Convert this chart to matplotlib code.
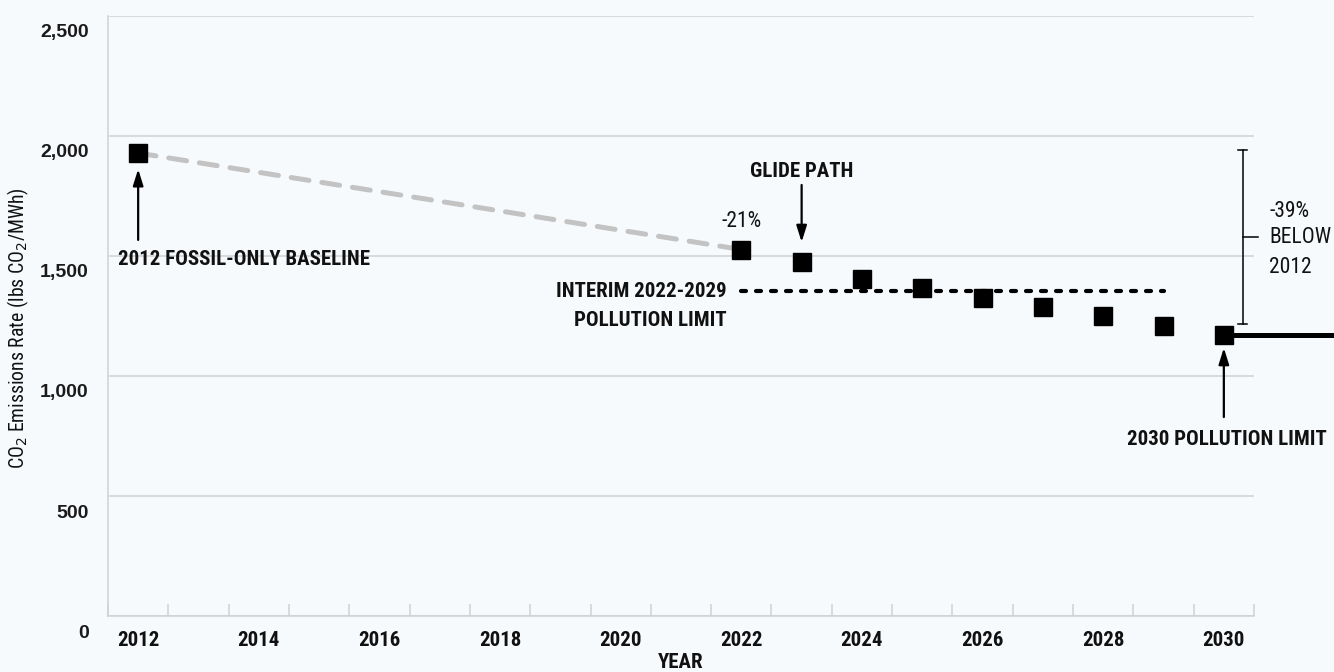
import numpy as np
import matplotlib
matplotlib.use("Agg")
import matplotlib.pyplot as plt
from matplotlib.transforms import ScaledTranslation

# emissions rate targets (lbs CO2/MWh)
years = [2012, 2022, 2023, 2024, 2025, 2026, 2027, 2028, 2029, 2030]
rates = [1929, 1527, 1477, 1406, 1367, 1327, 1287, 1250, 1210, 1171]
interim_years = [2022, 2029]
interim_limit = 1356
final_limit = 1171
bracket_top, bracket_bottom = 1942, 1217
year_labels = [2012, 2014, 2016, 2018, 2020, 2022, 2024, 2026, 2028, 2030]
y_ticks = [0, 500, 1000, 1500, 2000, 2500]

BG = "#f7fafd"
GRID = "#cfd2d5"
COND = ["Roboto Condensed", "Liberation Sans Narrow", "Roboto", "DejaVu Sans"]

fig = plt.figure(figsize=(13.34, 6.72), dpi=100, facecolor=BG)
ax = fig.add_axes([108 / 1334, 56 / 672, 1146 / 1334, 600 / 672], facecolor=BG)

ax.set_xlim(2011.5, 2030.5)
ax.set_ylim(0, 2500)

# grid + frame
ax.set_yticks(y_ticks)
ax.set_yticklabels([f"{v:,}" for v in y_ticks], fontsize=14, color="#1a1a1a",
                   family=["Liberation Sans", "DejaVu Sans"], fontweight="bold")
ax.yaxis.grid(True, color=GRID, lw=1.1)
ax.tick_params(axis="y", length=0, pad=14)
for lab in ax.get_yticklabels():
    lab.set_transform(lab.get_transform() + ScaledTranslation(0, -0.15, fig.dpi_scale_trans))

ax.set_xticks(year_labels)
ax.set_xticklabels([str(y) for y in year_labels], fontsize=15, family=COND,
                   fontweight="bold", color="#111111")
ax.set_xticks(np.arange(2011.5, 2031, 1), minor=True)
ax.tick_params(axis="x", which="major", length=0, pad=11)
ax.tick_params(axis="x", which="minor", direction="in", length=9, color=GRID, width=1.1)
for s in ["top", "right"]:
    ax.spines[s].set_visible(False)
for s in ["left", "bottom"]:
    ax.spines[s].set_color(GRID)
    ax.spines[s].set_linewidth(1.1)
ax.set_axisbelow(True)

# 2012 -> 2022 glide
ax.plot([years[0], years[1]], [rates[0], rates[1]], color="#c3c3c3", lw=3.6,
        ls=(0, (3.6, 2.6)), dash_capstyle="round", zorder=2)
# interim limit
ax.plot(interim_years, [interim_limit] * 2, color="black", lw=3,
        ls=(0, (1.2, 2.4)), dash_capstyle="round", zorder=2)
# 2030 limit carries on past the axes
ax.plot([2030, 2032.0], [final_limit] * 2, color="black", lw=3.6, clip_on=False, zorder=2)

ax.plot(years, rates, "s", color="black", ms=12.5, zorder=3)

arrow = dict(arrowstyle="-|>,head_length=0.7,head_width=0.22", color="black", lw=1.6,
             mutation_scale=14, shrinkA=0, shrinkB=0)
txt = dict(family=COND, fontweight="bold", fontsize=15, color="#111111")
plain = dict(family=COND, fontsize=15.5, color="#111111")

ax.annotate("", xy=(2012, 1862), xytext=(2012, 1567), arrowprops=arrow)
ax.text(2011.67, 1487, "2012 FOSSIL-ONLY BASELINE", ha="left", va="center", **txt)

ax.text(2022, 1642, "-21%", ha="center", va="center", **plain)
ax.text(2023, 1854, "GLIDE PATH", ha="center", va="center", **txt)
ax.annotate("", xy=(2023, 1558), xytext=(2023, 1796), arrowprops=arrow)

ax.text(2021.75, 1354, "INTERIM 2022-2029", ha="right", va="center", **txt)
ax.text(2021.75, 1233, "POLLUTION LIMIT", ha="right", va="center", **txt)

ax.annotate("", xy=(2030, 1117), xytext=(2030, 829), arrowprops=arrow)
ax.text(2031.7, 737, "2030 POLLUTION LIMIT", ha="right", va="center", clip_on=False, **txt)

# -39% bracket
bx = 2030.31
ax.plot([bx, bx], [bracket_bottom, bracket_top], color="black", lw=1.1, clip_on=False)
for yb in (bracket_top, bracket_bottom):
    ax.plot([bx - 0.075, bx + 0.075], [yb, yb], color="black", lw=1.1, clip_on=False)
mid = (bracket_top + bracket_bottom) / 2
ax.plot([bx, bx + 0.26], [mid, mid], color="black", lw=1.1, clip_on=False)
for yy, s in zip([1687, 1575, 1454], ["-39%", "BELOW", "2012"]):
    ax.text(2030.75, yy, s, ha="left", va="center", clip_on=False, **plain)

fig.text(681 / 1334, 1 - 663 / 672, "YEAR", ha="center", va="center", **txt)
fig.text(18 / 1334, 1 - 328 / 672, r"CO$_2$ Emissions Rate (lbs CO$_2$/MWh)", rotation=90,
         ha="center", va="center", family=COND, fontsize=14.2, color="#111111")

fig.savefig("out.png", dpi=100, facecolor=BG)
